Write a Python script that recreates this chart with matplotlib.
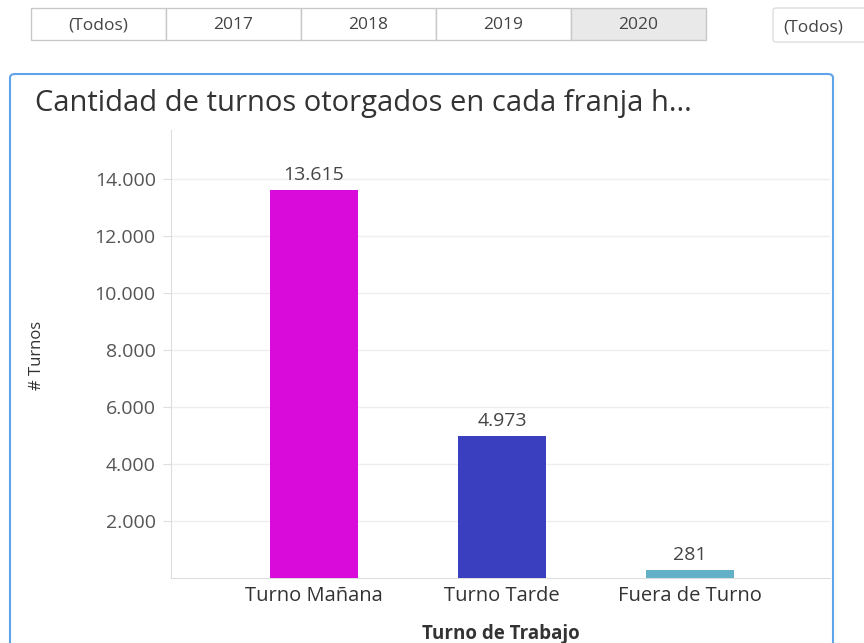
import matplotlib.pyplot as plt
from matplotlib.patches import FancyBboxPatch, Rectangle
from matplotlib.ticker import FuncFormatter

plt.rcParams.update({'font.family': ['Open Sans', 'DejaVu Sans']})

categorias = ['Turno Mañana', 'Turno Tarde', 'Fuera de Turno']
turnos = [13615, 4973, 281]
colores = ['#D90BDB', '#3A3FBF', '#63B1C9']
filtros = ['(Todos)', '2017', '2018', '2019', '2020']
y_ticks = [2000, 4000, 6000, 8000, 10000, 12000, 14000]

W, H = 864, 643


def miles(v):
    return f'{int(v):,}'.replace(',', '.')


fig = plt.figure(figsize=(W / 100, H / 100), dpi=100)

# filtro de años (botonera)
x0, ancho = 31, 135
for i, f in enumerate(filtros):
    sel = f == '2020'
    fig.patches.append(Rectangle(((x0 + i * ancho) / W, 1 - 40 / H), ancho / W, 32 / H,
                                 transform=fig.transFigure, facecolor='#E9E9E9' if sel else 'white',
                                 edgecolor='#C8C8C8', lw=1, zorder=-5))
    fig.text((x0 + i * ancho + ancho / 2) / W, 1 - 25 / H, f, ha='center', va='center',
             fontsize=12.5, color='#444444')
fig.patches.append(FancyBboxPatch((773 / W, 1 - 42 / H), 120 / W, 34 / H,
                                  boxstyle='round,pad=0,rounding_size=0.004',
                                  transform=fig.transFigure, facecolor='white',
                                  edgecolor='#DDDDDD', lw=1, zorder=-5))
fig.text(783 / W, 1 - 28 / H, '(Todos)', ha='left', va='center', fontsize=12.5, color='#444444')

# tarjeta
fig.patches.append(FancyBboxPatch((10 / W, -10 / H), 823 / W, (H - 74 + 10) / H,
                                  boxstyle='round,pad=0,rounding_size=0.006',
                                  transform=fig.transFigure, facecolor='white',
                                  edgecolor='#5FA3E8', lw=1.5, zorder=-5))
fig.text(35 / W, 1 - 103 / H, 'Cantidad de turnos otorgados en cada franja h...',
         ha='left', va='center', fontsize=21, color='#333333')

ax = fig.add_axes([171 / W, 1 - 578 / H, (830 - 171) / W, (578 - 130) / H])
ax.set_facecolor('none')
ax.bar(range(len(turnos)), turnos, width=0.47, color=colores, zorder=3)
for i, v in enumerate(turnos):
    ax.text(i, v + 220, miles(v), ha='center', va='bottom', fontsize=14, color='#444444')

ax.set_xlim(-0.76, 2.745)
ax.set_ylim(0, 15720)
ax.set_yticks(y_ticks)
ax.yaxis.set_major_formatter(FuncFormatter(lambda v, p: miles(v)))
ax.set_xticks(range(len(categorias)))
ax.set_xticklabels(categorias)
ax.tick_params(axis='x', length=0, labelsize=14.5, labelcolor='#333333', pad=6)
ax.tick_params(axis='y', length=6, color='#DDDDDD', labelsize=14, labelcolor='#555555', pad=5)
ax.grid(axis='y', color='#EEEEEE', lw=1, zorder=0)
for s in ['top', 'right']:
    ax.spines[s].set_visible(False)
for s in ['left', 'bottom']:
    ax.spines[s].set_color('#DDDDDD')

ax.set_xlabel('Turno de Trabajo', fontsize=13.5, fontweight='bold', color='#333333', labelpad=13)
fig.text(37 / W, 1 - 355 / H, '# Turnos', rotation=90, ha='center', va='center',
         fontsize=12, color='#333333')

fig.savefig('out.png', dpi=100)
